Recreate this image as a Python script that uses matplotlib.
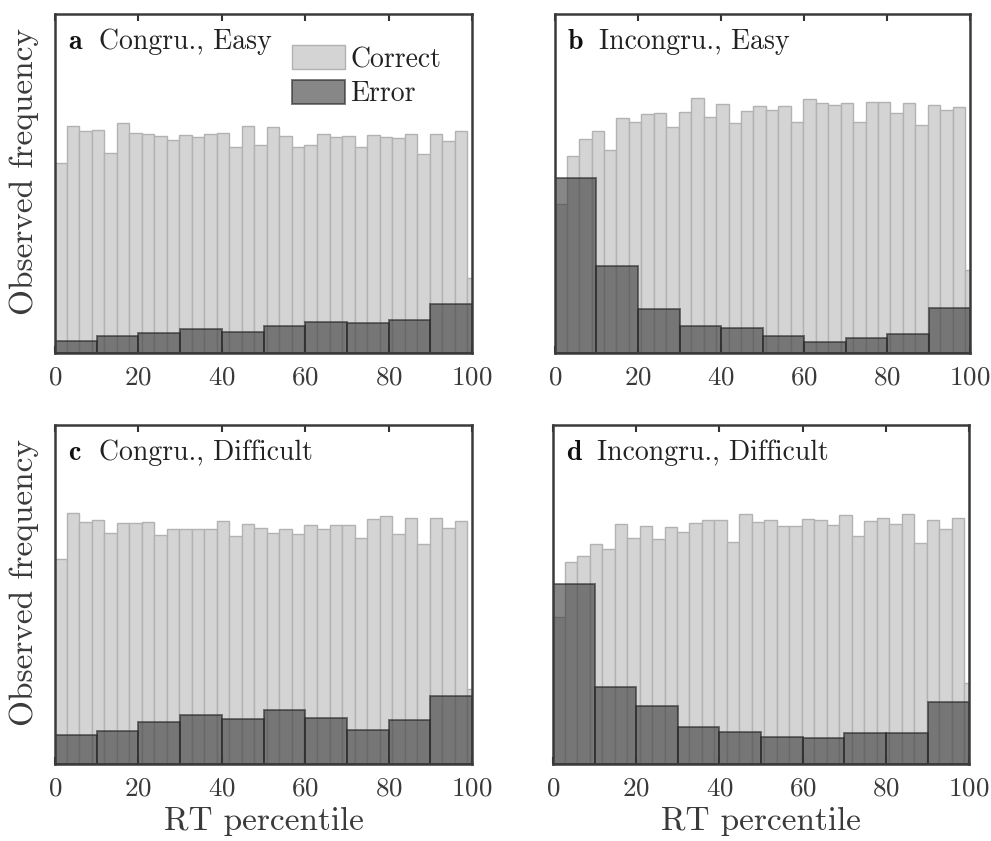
import numpy as np
import matplotlib
matplotlib.use("Agg")
import matplotlib.pyplot as plt

plt.rcParams['font.family'] = ['cmr10']
plt.rcParams['axes.formatter.use_mathtext'] = True
plt.rcParams['mathtext.fontset'] = 'cm'

# bin edges (RT percentile)
correct_edges = np.arange(34 + 1) * 3 - 0.2
error_edges = np.arange(0, 101, 10)

letters = ["a", "b", "c", "d"]
titles = ["Congru., Easy", "Incongru., Easy", "Congru., Difficult", "Incongru., Difficult"]

# observed frequencies (arbitrary units)
correct_a = [570, 682, 668, 670, 602, 692, 660, 658, 652, 640, 656, 650, 658, 660, 620, 682, 625,
             680, 652, 618, 626, 657, 648, 653, 620, 655, 650, 647, 658, 598, 657, 637, 666, 225]
error_a = [37, 52, 60, 72, 65, 83, 93, 92, 100, 148]

correct_b = [448, 593, 643, 666, 611, 708, 693, 718, 723, 678, 725, 768, 711, 750, 690, 728, 744,
             730, 744, 696, 765, 751, 747, 753, 693, 756, 756, 723, 753, 684, 747, 732, 741, 250]
error_b = [526, 261, 133, 83, 75, 53, 33, 45, 58, 136]

correct_c = [617, 755, 728, 732, 694, 724, 725, 727, 689, 705, 707, 707, 707, 730, 684, 722, 709,
             695, 706, 692, 718, 706, 718, 718, 680, 736, 746, 692, 738, 662, 738, 709, 731, 226]
error_c = [87, 100, 126, 148, 136, 161, 137, 102, 131, 205]

correct_d = [442, 607, 625, 661, 645, 720, 680, 716, 675, 713, 697, 725, 734, 734, 667, 750, 726,
             734, 714, 714, 737, 733, 718, 747, 686, 731, 738, 721, 751, 663, 732, 707, 739, 242]
error_d = [540, 232, 175, 112, 95, 80, 79, 93, 93, 185]

correct_all = [correct_a, correct_b, correct_c, correct_d]
error_all = [error_a, error_b, error_c, error_d]

fig = plt.figure(figsize=(9.91, 8.41), dpi=100)
positions = [[0.0555, 0.580, 0.421, 0.403],
             [0.560, 0.580, 0.419, 0.403],
             [0.0555, 0.0916, 0.421, 0.403],
             [0.558, 0.0916, 0.420, 0.403]]

txt = '#3a3a3a'
for i in range(4):
    ax = fig.add_axes(positions[i])
    cb = ax.bar(correct_edges[:-1], correct_all[i], width=3, align='edge',
                color='#d4d4d4', edgecolor='#b2b2b2', lw=1.0, label='Correct')
    eb = ax.bar(error_edges[:-1], error_all[i], width=10, align='edge',
                color='#383838', alpha=0.6, lw=1.4, label='Error')
    for p in eb:
        p.set_edgecolor((0.15, 0.15, 0.15, 0.9))
    ax.set_xlim(0, 100)
    ax.set_ylim(0, 1018)
    ax.set_xticks([0, 20, 40, 60, 80, 100])
    ax.set_yticks([])
    ax.tick_params(axis='x', direction='in', top=True, length=5, width=1.5,
                   labelsize=19.5, labelcolor=txt, color='#333333', pad=9)
    for s in ax.spines.values():
        s.set_linewidth(1.8)
        s.set_color('#3a3a3a')
        s.set_zorder(5)
    ax.text(0.031, 0.897, letters[i], transform=ax.transAxes, fontsize=20,
            fontfamily='cmb10', color='#111111', va='baseline', ha='left')
    ax.text(0.106, 0.897, titles[i], transform=ax.transAxes, fontsize=20,
            color='#222222', va='baseline', ha='left')
    if i % 2 == 0:
        ax.set_ylabel("Observed frequency", fontsize=24, color=txt)
        ax.yaxis.set_label_coords(-0.038, 0.535)
    if i >= 2:
        ax.set_xlabel("RT percentile", fontsize=24, color=txt, labelpad=5)
    if i == 0:
        ax.legend(handles=[cb, eb], loc='upper left', bbox_to_anchor=(0.568, 0.908),
                  frameon=False, fontsize=20, handlelength=1.9, handleheight=0.95,
                  handletextpad=0.2, labelspacing=0.25, borderpad=0, borderaxespad=0,
                  labelcolor='#222222')

fig.savefig("out.png", dpi=100)
